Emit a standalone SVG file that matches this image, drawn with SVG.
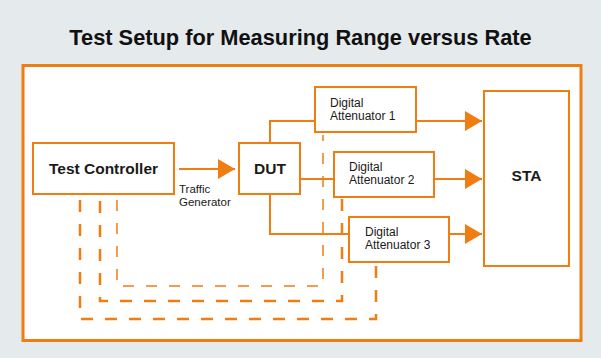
<svg xmlns="http://www.w3.org/2000/svg" width="601" height="358" viewBox="0 0 601 358">
  <style>
    .box { fill: #ffffff; stroke: #f07d12; stroke-width: 2; }
    .line { fill: none; stroke: #f07d12; stroke-width: 2; }
    .dash { fill: none; stroke: #f07d12; stroke-width: 2.5; stroke-dasharray: 12 12; }
    .dash-thin { fill: none; stroke: #f07d12; stroke-width: 1.5; stroke-dasharray: 11 12; }
    .title { font-family: "Liberation Sans", Arial, sans-serif; font-weight: bold; font-size: 21.8px; fill: #111111; }
    .big { font-family: "Liberation Sans", Arial, sans-serif; font-weight: bold; font-size: 15.5px; fill: #1a1a1a; }
    .small { font-family: "Liberation Sans", Arial, sans-serif; font-size: 12px; fill: #1a1a1a; }
    .tg { font-family: "Liberation Sans", Arial, sans-serif; font-size: 11.5px; fill: #1a1a1a; }
  </style>
  <defs>
    <marker id="arrow" markerUnits="userSpaceOnUse" markerWidth="17" markerHeight="20" refX="17" refY="10" orient="auto">
      <path d="M0,0 L17,10 L0,20 Z" fill="#f07d12"/>
    </marker>
  </defs>
  <rect x="0" y="0" width="601" height="358" fill="#e5eaed"/>
  <text class="title" x="300.5" y="45" text-anchor="middle">Test Setup for Measuring Range versus Rate</text>
  <rect x="23" y="65.5" width="558" height="275" fill="#ffffff" stroke="#f07d12" stroke-width="3"/>

  <g id="connectors">
    <path class="dash" d="M80,200 V319 H376 V264"/>
    <path class="dash" d="M100,201 V301 H342 V199"/>
    <path class="dash-thin" d="M117,200 V286 H323 V135"/>
    <line class="line" x1="179" y1="169" x2="235" y2="169" marker-end="url(#arrow)"/>
    <path class="line" d="M270,143 V121 H315"/>
    <path class="line" d="M300,179 H334"/>
    <path class="line" d="M270,194 V234 H349"/>
    <line class="line" x1="416" y1="121" x2="482" y2="121" marker-end="url(#arrow)"/>
    <line class="line" x1="434" y1="179" x2="482" y2="179" marker-end="url(#arrow)"/>
    <line class="line" x1="449" y1="234" x2="482" y2="234" marker-end="url(#arrow)"/>
  </g>

  <g id="test-controller">
    <rect class="box" x="33" y="143" width="141" height="51"/>
    <text class="big" x="103.5" y="174" text-anchor="middle">Test Controller</text>
  </g>
  <g id="traffic-generator-label">
    <text class="tg" x="179" y="193">Traffic</text>
    <text class="tg" x="179" y="206">Generator</text>
  </g>
  <g id="dut">
    <rect class="box" x="239" y="143" width="61" height="51"/>
    <text class="big" x="270" y="174" text-anchor="middle">DUT</text>
  </g>
  <g id="attenuator-1">
    <rect class="box" x="315" y="87" width="101" height="45"/>
    <text class="small" x="330" y="107">Digital</text>
    <text class="small" x="330" y="120">Attenuator 1</text>
  </g>
  <g id="attenuator-2">
    <rect class="box" x="334" y="152" width="100" height="45"/>
    <text class="small" x="349" y="171">Digital</text>
    <text class="small" x="349" y="184">Attenuator 2</text>
  </g>
  <g id="attenuator-3">
    <rect class="box" x="349" y="217" width="100" height="45"/>
    <text class="small" x="365" y="236">Digital</text>
    <text class="small" x="365" y="249">Attenuator 3</text>
  </g>
  <g id="sta">
    <rect class="box" x="484" y="91" width="85" height="175"/>
    <text class="big" x="526.5" y="181" text-anchor="middle">STA</text>
  </g>
</svg>
